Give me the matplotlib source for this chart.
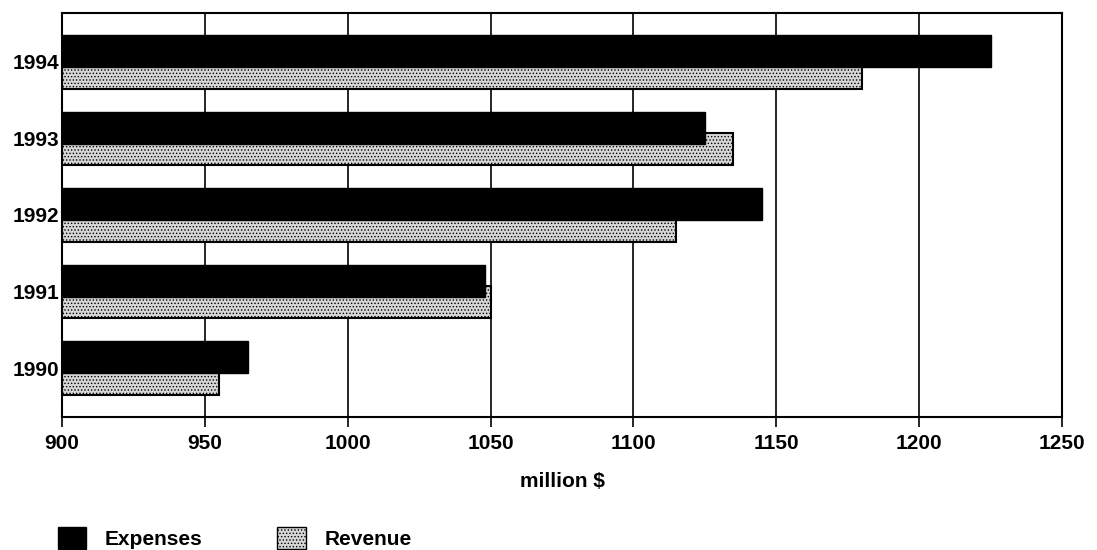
import matplotlib
matplotlib.use("Agg")
import matplotlib.pyplot as plt
from matplotlib.patches import Patch
import numpy as np

plt.rcParams['font.family'] = ['Liberation Sans', 'DejaVu Sans']
plt.rcParams['font.weight'] = 'bold'
plt.rcParams['axes.labelweight'] = 'bold'
plt.rcParams['hatch.linewidth'] = 0.6

# Dane
years = ["1990", "1991", "1992", "1993", "1994"]
expenses = [965, 1048, 1145, 1125, 1225]
revenue = [955, 1050, 1115, 1135, 1180]
x_ticks = [900, 950, 1000, 1050, 1100, 1150, 1200, 1250]

fig = plt.figure(figsize=(10.97, 5.5), dpi=100)
ax = fig.add_axes([62 / 1097, 133 / 550, 1000 / 1097, 404 / 550])

y = np.arange(len(years))
bar_h = 0.42
base = 900

# Revenue pod spodem, Expenses na wierzchu
ax.barh(y - 0.14, np.array(revenue) - base, left=base, height=bar_h,
        color='#d6d6d6', edgecolor='black', hatch='.....', linewidth=1.5, zorder=2)
ax.barh(y + 0.14, np.array(expenses) - base, left=base, height=bar_h,
        color='black', edgecolor='black', linewidth=1.0, zorder=3)

ax.set_xlim(900, 1250)
ax.set_ylim(-0.64, 4.64)
ax.set_xticks(x_ticks)
ax.set_yticks(y)
ax.set_yticklabels(years)
ax.tick_params(axis='x', direction='out', length=7, width=1.2, labelsize=15, pad=5)
ax.tick_params(axis='y', length=0, labelsize=15, pad=2)
ax.xaxis.grid(True, color='black', linewidth=1.2, zorder=0)
ax.set_axisbelow(True)
for s in ax.spines.values():
    s.set_linewidth(1.5)

ax.set_xlabel("million $", fontsize=15, labelpad=14)

handles = [Patch(facecolor='black', edgecolor='black', label='Expenses'),
           Patch(facecolor='#d6d6d6', edgecolor='black', hatch='.....', label='Revenue')]
fig.legend(handles=handles, loc='lower left', bbox_to_anchor=(39 / 1097, -18 / 550),
           ncol=2, frameon=False, fontsize=15, handlelength=1.35, handleheight=1.3,
           handletextpad=0.9, columnspacing=3.6)

fig.savefig("out.png", dpi=100)
